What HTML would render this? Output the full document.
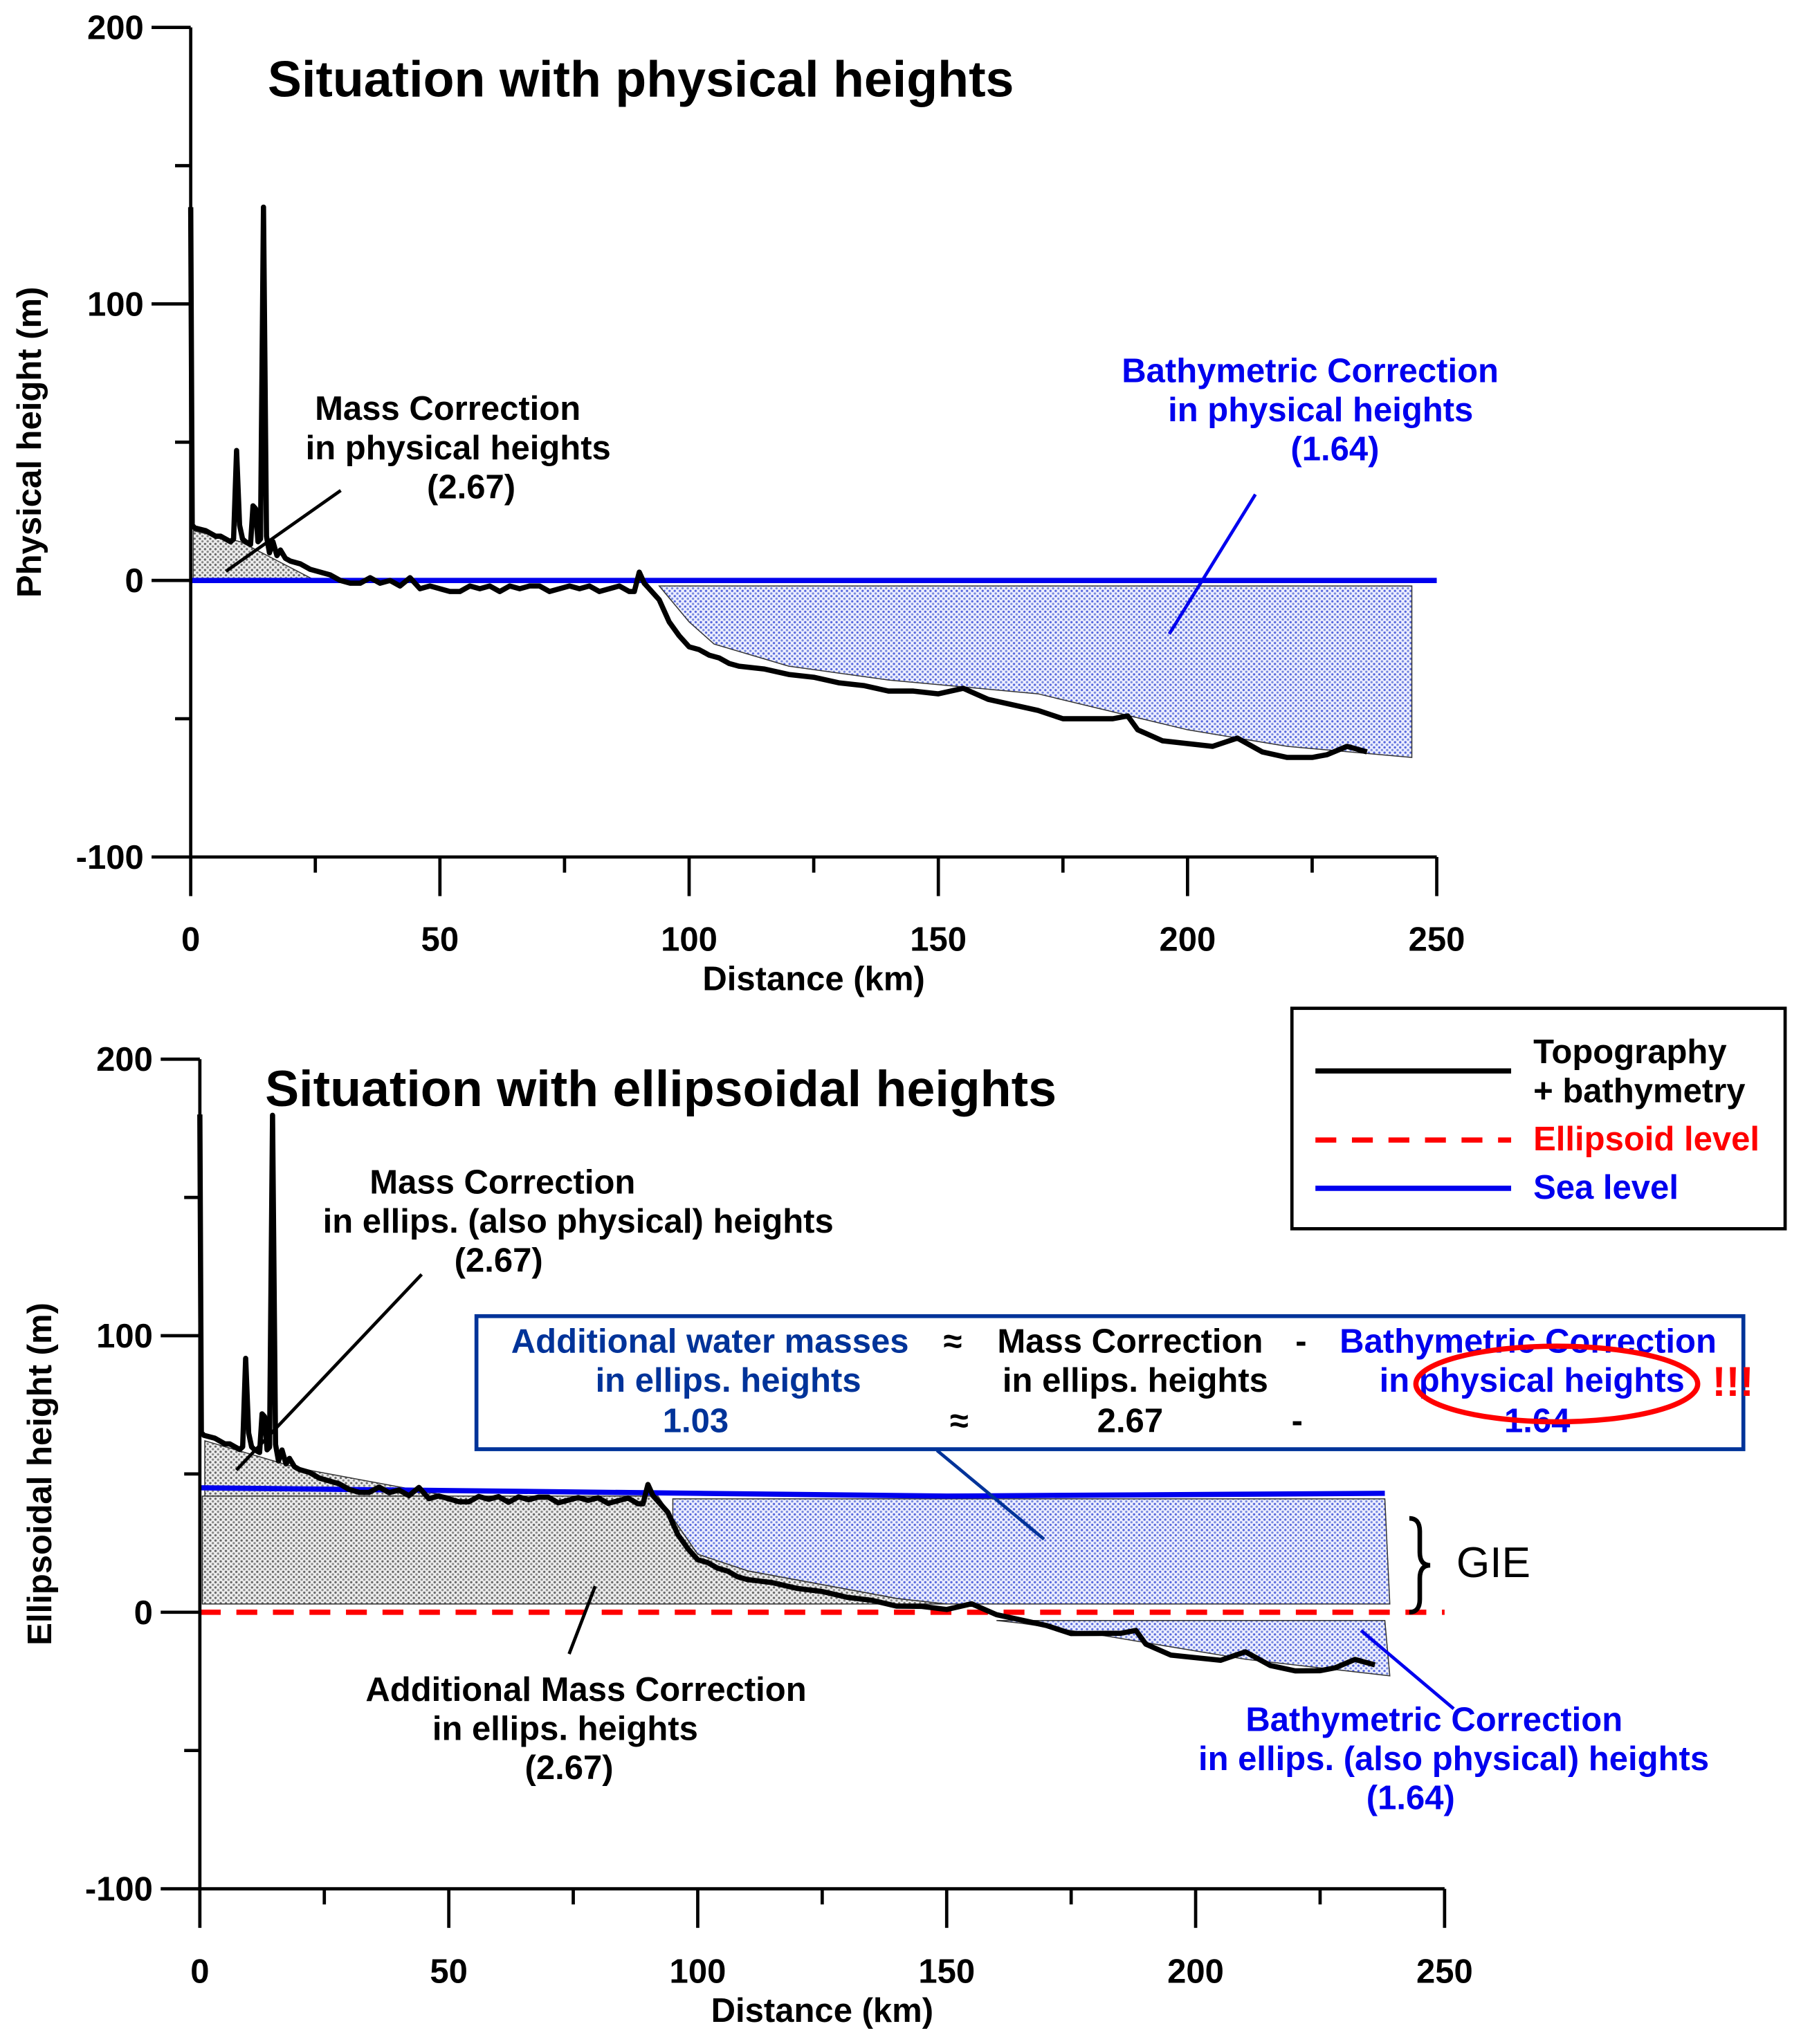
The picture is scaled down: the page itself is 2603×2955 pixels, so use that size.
<!DOCTYPE html>
<html><head><meta charset="utf-8"><style>
html,body{margin:0;padding:0;background:#fff}
svg{display:block}
text{font-family:"Liberation Sans",Arial,sans-serif;font-weight:bold}
</style></head><body>
<svg id="fig" width="2603" height="2955" viewBox="0 0 1380 1567" xmlns="http://www.w3.org/2000/svg">
<defs>
<pattern id="dotGray" width="4" height="4" patternUnits="userSpaceOnUse"><rect width="4" height="4" fill="#eee"/><circle cx="1" cy="1" r="0.9" fill="#666"/><circle cx="3" cy="3" r="0.9" fill="#888"/></pattern>
<pattern id="dotBlue" width="4" height="4" patternUnits="userSpaceOnUse"><rect width="4" height="4" fill="#eef0ff"/><circle cx="1" cy="1" r="0.9" fill="#5566dd"/><circle cx="3" cy="3" r="0.9" fill="#7788dd"/></pattern>
</defs>
<g id="top"></g>
<g id="bot"></g>

<text x="205" y="74" font-size="39">Situation with physical heights</text>
<text x="203" y="848" font-size="39">Situation with ellipsoidal heights</text>

<g font-size="26" text-anchor="middle">
<text x="343" y="322">Mass Correction</text>
<text x="351" y="352">in physical heights</text>
<text x="361" y="382">(2.67)</text>
<line x1="173" y1="438" x2="261" y2="376" stroke="#000" stroke-width="2.5"/>
<g fill="#0000ee"><text x="1004" y="293">Bathymetric Correction</text>
<text x="1012" y="323">in physical heights</text>
<text x="1023" y="353">(1.64)</text></g>
<line x1="896" y1="486" x2="962" y2="379" stroke="#0000ee" stroke-width="2.5"/>
</g>

<g font-size="26" text-anchor="middle">
<text x="385" y="915">Mass Correction</text>
<text x="443" y="945">in ellips. (also physical) heights</text>
<text x="382" y="975">(2.67)</text>
<line x1="181" y1="1127" x2="323" y2="977" stroke="#000" stroke-width="2.5"/>
<text x="449" y="1304">Additional Mass Correction</text>
<text x="433" y="1334">in ellips. heights</text>
<text x="436" y="1364">(2.67)</text>
<line x1="436" y1="1268" x2="456" y2="1216" stroke="#000" stroke-width="2.5"/>
<g fill="#0000ee"><text x="1099" y="1327">Bathymetric Correction</text>
<text x="1114" y="1357">in ellips. (also physical) heights</text>
<text x="1081" y="1387">(1.64)</text></g>
<line x1="1043" y1="1250" x2="1114" y2="1310" stroke="#0000ee" stroke-width="2.5"/>
<line x1="800" y1="1180" x2="718" y2="1112" stroke="#003399" stroke-width="2.5"/>
</g>

<g>
<path d="M1080,1164 q8,0 8,10 v16 q0,10 8,10 q-8,0 -8,10 v16 q0,10 -8,10" fill="none" stroke="#000" stroke-width="3.5"/>
<text x="1116" y="1209" font-size="33" style="font-weight:normal">GIE</text>
</g>

<g>
<rect x="365" y="1009" width="971" height="102" fill="#fff" stroke="#003399" stroke-width="3"/>
<g font-size="26" text-anchor="middle">
<g fill="#003399"><text x="544" y="1037">Additional water masses</text><text x="558" y="1067">in ellips. heights</text><text x="533" y="1098">1.03</text></g>
<text x="730" y="1037">≈</text><text x="735" y="1098">≈</text>
<text x="866" y="1037">Mass Correction</text><text x="870" y="1067">in ellips. heights</text><text x="866" y="1098">2.67</text>
<text x="997" y="1037">-</text><text x="994" y="1098">-</text>
<g fill="#0000ee"><text x="1171" y="1037">Bathymetric Correction</text><text x="1174" y="1067">in physical heights</text><text x="1178" y="1098">1.64</text></g>
</g>
<ellipse cx="1193" cy="1061" rx="108" ry="29" fill="none" stroke="#ff0000" stroke-width="4"/>
<text x="1312" y="1070" font-size="32" fill="#ff0000">!!!</text>
</g>

<g>
<rect x="990" y="773" width="378" height="169" fill="#fff" stroke="#000" stroke-width="2.5"/>
<line x1="1008" y1="821" x2="1158" y2="821" stroke="#000" stroke-width="4"/>
<text x="1175" y="815" font-size="26">Topography</text>
<text x="1175" y="845" font-size="26">+ bathymetry</text>
<line x1="1008" y1="874" x2="1158" y2="874" stroke="#ff0000" stroke-width="4" stroke-dasharray="16,12"/>
<text x="1175" y="882" font-size="26" fill="#ff0000">Ellipsoid level</text>
<line x1="1008" y1="911" x2="1158" y2="911" stroke="#0000ee" stroke-width="4"/>
<text x="1175" y="919" font-size="26" fill="#0000ee">Sea level</text>
</g>
</svg>
<script>
// Topography profile in physical heights (km, m)
const topoDist = [0,0.3,0.8,3,5,6,8,8.6,9.2,9.8,10.4,11,12,12.5,13,13.5,14,14.6,15.2,15.8,16.5,17.3,18,19,20,22,24,26,28,30,32,34,36,38,40,42,44,46,48,50,52,54,56,58,60,62,64,66,68,70,72,74,76,78,80,82,84,86,88,89,90,91,92,94,96,98,100,102,104,106,108,110,115,120,125,130,135,140,145,150,155,160,165,170,175,180,185,188,190,195,200,205,210,215,220,225,228,232,236];
const topoVal = [135,20,19,18,16,16,14,15,47,20,15,14,13,27,26,14,15,135,16,10,14,9,11,8,7,6,4,3,2,0,-1,-1,1,-1,0,-2,1,-3,-2,-3,-4,-4,-2,-3,-2,-4,-2,-3,-2,-2,-4,-3,-2,-3,-2,-4,-3,-2,-4,-4,3,-1,-3,-7,-15,-20,-24,-25,-27,-28,-30,-31,-32,-34,-35,-37,-38,-40,-40,-41,-39,-43,-45,-47,-50,-50,-50,-49,-54,-58,-59,-60,-57,-62,-64,-64,-63,-60,-62,-66];
// Geoid (GIE) offset used for ellipsoidal heights
const geoidDist = [0,100,150,238];
const geoidVal = [45,43,42,43];
// Correction polygons (km, m)
const topMassPoly = [[0.5,18],[10,14],[25,0],[0.5,0]];
const topBathyPoly = [[94,-2],[245,-2],[245,-64],[220,-60],[200,-54],[170,-41],[140,-36],[120,-31],[105,-23],[100,-15],[94,-2]];
const botMassTopPoly = [[1,62],[20,52],[50,42],[1,42]];
const botGrayPoly = [[0.5,42],[92,42],[95,34],[100,21],[110,15],[140,5],[150,3],[0.5,3]];
const botBlueUpper = [[95,41],[238,41],[239,3],[150,3],[140,5],[110,15],[100,21],[95,34]];
const botBlueLower = [[160,-3],[238,-3],[239,-23],[210,-17],[180,-8],[165,-4]];
const xTicks = [0,50,100,150,200,250];
const yTicks = [200,100,0,-100];

const NS='http://www.w3.org/2000/svg';
function mk(tag,attrs,parent){const e=document.createElementNS(NS,tag);for(const k in attrs)e.setAttribute(k,attrs[k]);parent.appendChild(e);return e;}
function interp(xs,ys,x){if(x<=xs[0])return ys[0];for(let i=1;i<xs.length;i++){if(x<=xs[i]){const t=(x-xs[i-1])/(xs[i]-xs[i-1]);return ys[i-1]+t*(ys[i]-ys[i-1]);}}return ys[ys.length-1];}

function axes(g,X,Y,x0,y0,ytitle,xt){
  const a=mk('line',{x1:X(0),y1:Y(200),x2:X(0),y2:Y(-100),stroke:'#000','stroke-width':2.5},g);
  
  const b=mk('line',{x1:X(0),y1:Y(-100),x2:X(250),y2:Y(-100),stroke:'#000','stroke-width':2.5},g);
  
  for(let v=-100;v<=200;v+=50){mk('line',{x1:X(0)-(v%100==0?30:12),y1:Y(v),x2:X(0),y2:Y(v),stroke:'#000','stroke-width':2.5},g);}
  yTicks.forEach(v=>{const t=mk('text',{x:X(0)-36,y:Y(v)+9,'font-size':26,'text-anchor':'end'},g);t.textContent=v;
    });
  for(let v=0;v<=250;v+=25){mk('line',{x1:X(v),y1:Y(-100),x2:X(v),y2:Y(-100)+(v%50==0?30:12),stroke:'#000','stroke-width':2.5},g);}
  xTicks.forEach(v=>{const t=mk('text',{x:X(v),y:Y(-100)+72,'font-size':26,'text-anchor':'middle'},g);t.textContent=v;
    });
  const xl=mk('text',{x:X(125),y:Y(-100)+102,'font-size':26,'text-anchor':'middle'},g);xl.textContent='Distance (km)';
  
  const yl=mk('text',{x:0,y:0,'font-size':26,'text-anchor':'middle',transform:`translate(${xt},${Y(50)}) rotate(-90)`},g);yl.textContent=ytitle;
  
}
function poly(g,pts,X,Y,fill,name){const p=mk('polygon',{points:pts.map(q=>X(q[0])+','+Y(q[1])).join(' '),fill:fill,stroke:'#333','stroke-width':0.8},g);
  }

// Top chart
(function(){
  const g=document.getElementById('top');
  const X=v=>146+v*3.82, Y=v=>445-v*2.12;
  poly(g,topMassPoly,X,Y,'url(#dotGray)','mass-correction-area');
  poly(g,topBathyPoly,X,Y,'url(#dotBlue)','bathymetric-correction-area');
  const sl=mk('line',{x1:X(0),y1:Y(0),x2:X(250),y2:Y(0),stroke:'#0000ee','stroke-width':4},g);
  
  const tp=mk('path',{d:topoDist.map((d,i)=>(i?'L':'M')+X(d)+','+Y(topoVal[i])).join(''),fill:'none',stroke:'#000','stroke-width':4,'stroke-linejoin':'round'},g);
  
  axes(g,X,Y,146,445,'Physical height (m)',31);
})();
// Bottom chart
(function(){
  const g=document.getElementById('bot');
  const X=v=>153+v*3.816, Y=v=>1236-v*2.12;
  poly(g,botMassTopPoly,X,Y,'url(#dotGray)','mass-correction-area');
  poly(g,botGrayPoly,X,Y,'url(#dotGray)','additional-mass-correction-area');
  poly(g,botBlueUpper,X,Y,'url(#dotBlue)','additional-water-area');
  poly(g,botBlueLower,X,Y,'url(#dotBlue)','bathymetric-correction-area');
  const el=mk('line',{x1:X(0),y1:Y(0),x2:X(250),y2:Y(0),stroke:'#ff0000','stroke-width':4,'stroke-dasharray':'16,12'},g);
  
  const sl=mk('path',{d:geoidDist.map((d,i)=>(i?'L':'M')+X(d)+','+Y(geoidVal[i])).join(''),fill:'none',stroke:'#0000ee','stroke-width':4},g);
  
  const tp=mk('path',{d:topoDist.map((d,i)=>(i?'L':'M')+X(d)+','+Y(topoVal[i]+interp(geoidDist,geoidVal,d))).join(''),fill:'none',stroke:'#000','stroke-width':4,'stroke-linejoin':'round'},g);
  
  axes(g,X,Y,153,1236,'Ellipsoidal height (m)',39);
})();
</script>
</body></html>
